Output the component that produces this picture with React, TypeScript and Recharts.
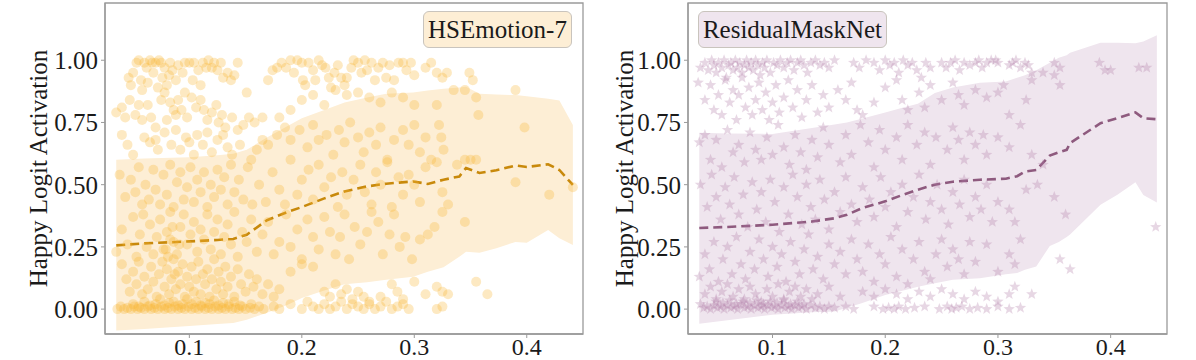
import React from "react";
import {
  ComposedChart,
  Area,
  Line,
  Scatter,
  XAxis,
  YAxis,
  ReferenceArea,
} from "recharts";

// ---- band + running mean ----
const hseBandX = [0.035, 0.06, 0.1, 0.125, 0.139, 0.151, 0.169, 0.187, 0.2, 0.22, 0.238, 0.258, 0.275, 0.299, 0.312, 0.326, 0.34, 0.346, 0.358, 0.373, 0.39, 0.4, 0.419, 0.429, 0.441];
const hseMean = [0.256, 0.264, 0.272, 0.278, 0.282, 0.299, 0.357, 0.39, 0.41, 0.445, 0.473, 0.493, 0.504, 0.513, 0.503, 0.52, 0.533, 0.567, 0.547, 0.558, 0.577, 0.571, 0.582, 0.559, 0.499];
const hseLow = [-0.086, -0.08, -0.068, -0.06, -0.056, -0.043, -0.015, 0.017, 0.045, 0.075, 0.1, 0.108, 0.118, 0.13, 0.15, 0.168, 0.21, 0.23, 0.226, 0.245, 0.27, 0.267, 0.318, 0.285, 0.258];
const hseHigh = [0.6, 0.605, 0.61, 0.618, 0.624, 0.64, 0.69, 0.735, 0.767, 0.8, 0.83, 0.85, 0.865, 0.87, 0.878, 0.885, 0.89, 0.893, 0.865, 0.862, 0.86, 0.855, 0.845, 0.838, 0.74];

const rmnBandX = [0.035, 0.06, 0.1, 0.135, 0.155, 0.166, 0.179, 0.2, 0.216, 0.229, 0.244, 0.26, 0.284, 0.307, 0.317, 0.324, 0.334, 0.346, 0.354, 0.361, 0.364, 0.391, 0.406, 0.422, 0.429, 0.441];
const rmnMean = [0.326, 0.33, 0.339, 0.352, 0.365, 0.379, 0.405, 0.433, 0.46, 0.48, 0.5, 0.512, 0.52, 0.524, 0.534, 0.553, 0.559, 0.617, 0.63, 0.64, 0.667, 0.747, 0.767, 0.79, 0.767, 0.763];
const rmnLow = [-0.059, -0.045, -0.023, -0.013, -0.01, 0.005, 0.024, 0.057, 0.075, 0.09, 0.104, 0.118, 0.124, 0.14, 0.145, 0.158, 0.171, 0.254, 0.27, 0.29, 0.3, 0.419, 0.46, 0.51, 0.459, 0.428];
const rmnHigh = [0.709, 0.706, 0.704, 0.728, 0.742, 0.75, 0.765, 0.79, 0.81, 0.825, 0.868, 0.89, 0.91, 0.915, 0.93, 0.94, 0.96, 0.99, 1.01, 1.02, 1.03, 1.07, 1.07, 1.068, 1.075, 1.1];

// ---- HSEmotion-7 scatter ----
const hseTop = [
  [0.046, 0.93], [0.048, 0.9], [0.05, 0.95], [0.053, 0.99], [0.055, 1.0], [0.057, 0.92], [0.058, 0.88], [0.06, 0.99], [0.062, 0.97], [0.063, 0.91],
  [0.065, 1.0], [0.067, 0.99], [0.068, 0.95], [0.07, 0.99], [0.072, 0.89], [0.073, 1.0], [0.075, 0.99], [0.076, 0.93], [0.078, 0.97], [0.08, 0.9],
  [0.082, 0.94], [0.083, 0.99], [0.085, 0.96], [0.088, 0.92], [0.09, 0.98], [0.094, 0.95], [0.096, 0.99], [0.1, 0.99], [0.103, 0.92], [0.104, 0.99],
  [0.108, 0.96], [0.11, 0.9], [0.112, 0.99], [0.115, 0.97], [0.117, 1.0], [0.12, 0.97], [0.122, 0.99], [0.125, 0.96], [0.128, 0.99], [0.13, 0.93],
  [0.134, 0.95], [0.137, 0.92], [0.14, 0.94], [0.143, 0.99], [0.151, 0.87],
  [0.17, 0.92], [0.174, 0.96], [0.178, 0.97], [0.182, 0.99], [0.186, 0.97], [0.19, 1.0], [0.193, 0.95], [0.196, 1.0], [0.2, 0.99], [0.201, 0.92],
  [0.203, 0.9], [0.206, 0.99], [0.21, 0.96], [0.212, 0.92], [0.215, 1.0], [0.218, 0.98], [0.221, 0.97], [0.224, 0.93], [0.226, 0.89], [0.229, 0.95],
  [0.232, 0.98], [0.235, 0.93], [0.238, 0.9], [0.24, 0.93], [0.244, 0.97], [0.246, 1.0], [0.25, 0.99], [0.253, 0.95], [0.256, 1.0], [0.258, 0.96],
  [0.262, 0.99], [0.265, 0.92], [0.268, 0.97], [0.272, 0.99], [0.275, 0.93], [0.278, 0.98], [0.282, 0.92], [0.286, 0.99], [0.29, 0.99], [0.293, 0.96],
  [0.297, 0.99], [0.3, 0.94], [0.31, 0.97], [0.315, 0.99], [0.32, 0.95], [0.325, 0.93], [0.329, 0.95], [0.349, 0.95], [0.352, 0.92],
];
const hseUpper = [
  [0.035, 0.79], [0.04, 0.81], [0.043, 0.77], [0.047, 0.84], [0.052, 0.78], [0.055, 0.82], [0.058, 0.76], [0.063, 0.82], [0.066, 0.77], [0.07, 0.73],
  [0.075, 0.84], [0.078, 0.87], [0.08, 0.76], [0.083, 0.83], [0.086, 0.8], [0.088, 0.78], [0.09, 0.84], [0.093, 0.8], [0.096, 0.87], [0.098, 0.77],
  [0.102, 0.85], [0.106, 0.81], [0.11, 0.84], [0.113, 0.8], [0.116, 0.76], [0.12, 0.79], [0.124, 0.82], [0.126, 0.75], [0.129, 0.78], [0.132, 0.73],
  [0.138, 0.77], [0.143, 0.72], [0.148, 0.74], [0.153, 0.77], [0.158, 0.75], [0.165, 0.77], [0.18, 0.77], [0.19, 0.8], [0.2, 0.84], [0.21, 0.86],
  [0.22, 0.82], [0.23, 0.88], [0.24, 0.86], [0.25, 0.87], [0.26, 0.85], [0.27, 0.83], [0.28, 0.87], [0.29, 0.85], [0.3, 0.82], [0.32, 0.82],
  [0.335, 0.88], [0.345, 0.88], [0.355, 0.85], [0.39, 0.88],
  [0.04, 0.7], [0.045, 0.66], [0.05, 0.62], [0.06, 0.69], [0.065, 0.67], [0.07, 0.68], [0.072, 0.64], [0.078, 0.71], [0.084, 0.66], [0.088, 0.72],
  [0.092, 0.64], [0.097, 0.69], [0.1, 0.67], [0.104, 0.62], [0.107, 0.7], [0.112, 0.66], [0.116, 0.71], [0.12, 0.63], [0.125, 0.68], [0.13, 0.7],
  [0.134, 0.65], [0.138, 0.62], [0.145, 0.66], [0.155, 0.6], [0.16, 0.64], [0.165, 0.68], [0.17, 0.66], [0.178, 0.7], [0.185, 0.73], [0.19, 0.68],
  [0.198, 0.72], [0.205, 0.65], [0.21, 0.74], [0.215, 0.68], [0.222, 0.7], [0.228, 0.62], [0.233, 0.72], [0.238, 0.67], [0.243, 0.75], [0.25, 0.69],
  [0.255, 0.63], [0.26, 0.71], [0.266, 0.66], [0.27, 0.73], [0.276, 0.6], [0.282, 0.68], [0.29, 0.72], [0.295, 0.66], [0.3, 0.74], [0.305, 0.63],
  [0.31, 0.69], [0.322, 0.74], [0.324, 0.69], [0.326, 0.64], [0.345, 0.6], [0.355, 0.6], [0.357, 0.78], [0.398, 0.73],
];
const hseMid = [
  [0.038, 0.54], [0.043, 0.45], [0.048, 0.52], [0.052, 0.47], [0.055, 0.57], [0.058, 0.42], [0.061, 0.5], [0.064, 0.44], [0.068, 0.56], [0.07, 0.48],
  [0.074, 0.42], [0.077, 0.54], [0.08, 0.46], [0.083, 0.58], [0.086, 0.41], [0.089, 0.51], [0.092, 0.55], [0.095, 0.44], [0.098, 0.49], [0.101, 0.57],
  [0.104, 0.43], [0.107, 0.52], [0.11, 0.47], [0.113, 0.55], [0.116, 0.41], [0.119, 0.5], [0.122, 0.45], [0.125, 0.56], [0.128, 0.48], [0.131, 0.53],
  [0.134, 0.42], [0.137, 0.58], [0.14, 0.47], [0.144, 0.52], [0.148, 0.44], [0.152, 0.57], [0.156, 0.42], [0.162, 0.5], [0.168, 0.43], [0.174, 0.55],
  [0.18, 0.48], [0.185, 0.42], [0.19, 0.6], [0.196, 0.46], [0.2, 0.52], [0.206, 0.56], [0.21, 0.44], [0.215, 0.58], [0.22, 0.49], [0.226, 0.53],
  [0.232, 0.41], [0.236, 0.55], [0.24, 0.46], [0.246, 0.52], [0.252, 0.58], [0.256, 0.47], [0.262, 0.42], [0.266, 0.55], [0.27, 0.5], [0.276, 0.59],
  [0.28, 0.41], [0.286, 0.53], [0.29, 0.46], [0.295, 0.54], [0.3, 0.5], [0.305, 0.43], [0.31, 0.57], [0.315, 0.6], [0.32, 0.59], [0.325, 0.47],
  [0.33, 0.42], [0.338, 0.58], [0.35, 0.6], [0.39, 0.51], [0.42, 0.46], [0.441, 0.49],
  [0.035, 0.23], [0.04, 0.32], [0.045, 0.26], [0.05, 0.37], [0.053, 0.21], [0.056, 0.3], [0.059, 0.38], [0.062, 0.25], [0.065, 0.34], [0.068, 0.22],
  [0.071, 0.29], [0.074, 0.36], [0.077, 0.24], [0.08, 0.31], [0.083, 0.39], [0.086, 0.27], [0.089, 0.22], [0.092, 0.33], [0.095, 0.38], [0.098, 0.26],
  [0.101, 0.3], [0.104, 0.35], [0.107, 0.23], [0.11, 0.32], [0.113, 0.28], [0.116, 0.38], [0.119, 0.24], [0.122, 0.31], [0.125, 0.36], [0.128, 0.22],
  [0.131, 0.29], [0.134, 0.34], [0.137, 0.26], [0.14, 0.39], [0.143, 0.21], [0.147, 0.31], [0.151, 0.27], [0.155, 0.36], [0.16, 0.23], [0.165, 0.3],
  [0.17, 0.35], [0.175, 0.22], [0.18, 0.27], [0.186, 0.38], [0.19, 0.25], [0.196, 0.32], [0.2, 0.2], [0.205, 0.36], [0.21, 0.29], [0.215, 0.24],
  [0.22, 0.37], [0.225, 0.31], [0.23, 0.22], [0.234, 0.29], [0.238, 0.38], [0.242, 0.2], [0.247, 0.33], [0.252, 0.26], [0.258, 0.31], [0.262, 0.39],
  [0.268, 0.35], [0.272, 0.22], [0.278, 0.3], [0.282, 0.38], [0.287, 0.25], [0.292, 0.29], [0.298, 0.2], [0.305, 0.28], [0.312, 0.3], [0.318, 0.33],
  [0.325, 0.39], [0.345, 0.35],
];
const hseLowPts = [
  [0.04, 0.18], [0.044, 0.12], [0.047, 0.07], [0.05, 0.15], [0.053, 0.1], [0.055, 0.19], [0.058, 0.06], [0.06, 0.13], [0.063, 0.08], [0.066, 0.17],
  [0.068, 0.11], [0.071, 0.05], [0.073, 0.14], [0.076, 0.19], [0.078, 0.09], [0.08, 0.16], [0.082, 0.06], [0.084, 0.12], [0.086, 0.2], [0.088, 0.08],
  [0.09, 0.15], [0.092, 0.1], [0.094, 0.18], [0.096, 0.05], [0.098, 0.13], [0.1, 0.09], [0.102, 0.17], [0.104, 0.07], [0.106, 0.12], [0.108, 0.19],
  [0.11, 0.06], [0.112, 0.14], [0.114, 0.1], [0.116, 0.16], [0.118, 0.05], [0.12, 0.12], [0.122, 0.2], [0.124, 0.08], [0.126, 0.15], [0.128, 0.11],
  [0.13, 0.06], [0.132, 0.17], [0.134, 0.09], [0.137, 0.13], [0.14, 0.05], [0.143, 0.16], [0.146, 0.1], [0.15, 0.07], [0.153, 0.14], [0.157, 0.09],
  [0.16, 0.12], [0.165, 0.06], [0.17, 0.1], [0.175, 0.05], [0.18, 0.08], [0.19, 0.15], [0.2, 0.18], [0.21, 0.17], [0.22, 0.07], [0.225, 0.05],
  [0.23, 0.1], [0.235, 0.06], [0.24, 0.08], [0.245, 0.04], [0.25, 0.07], [0.255, 0.05], [0.26, 0.03], [0.27, 0.05], [0.28, 0.1], [0.285, 0.07],
  [0.29, 0.04], [0.3, 0.11], [0.31, 0.06], [0.32, 0.09], [0.325, 0.07], [0.33, 0.06], [0.355, 0.11], [0.365, 0.06],
  [0.079, 0.24], [0.081, 0.21], [0.083, 0.28], [0.085, 0.33], [0.087, 0.14], [0.091, 0.26],
];
const hseZero = [
  [0.036, 0], [0.039, 0.01], [0.042, 0], [0.045, 0.005], [0.048, 0], [0.051, 0.01], [0.054, 0], [0.057, 0.005], [0.06, 0], [0.063, 0.01],
  [0.066, 0], [0.069, 0.005], [0.072, 0], [0.075, 0.01], [0.078, 0], [0.081, 0.005], [0.084, 0], [0.087, 0.01], [0.09, 0], [0.093, 0.005],
  [0.096, 0], [0.099, 0.01], [0.102, 0], [0.105, 0.005], [0.108, 0], [0.111, 0.01], [0.114, 0], [0.117, 0.005], [0.12, 0], [0.123, 0.01],
  [0.126, 0], [0.129, 0.005], [0.132, 0], [0.135, 0.01], [0.138, 0], [0.141, 0.005], [0.144, 0], [0.147, 0.01], [0.15, 0], [0.154, 0.005],
  [0.158, 0], [0.162, 0.01], [0.166, 0],
  [0.05, 0.02], [0.055, 0.01], [0.06, 0.03], [0.065, 0.015], [0.07, 0.02], [0.074, 0.04], [0.078, 0.015], [0.082, 0.025], [0.086, 0.03], [0.09, 0.015],
  [0.094, 0.02], [0.098, 0.04], [0.102, 0.02], [0.106, 0.03], [0.11, 0.015], [0.114, 0.025], [0.118, 0.02], [0.122, 0.035], [0.126, 0.015], [0.13, 0.025],
  [0.135, 0.02], [0.14, 0.03], [0.145, 0.015], [0.155, 0.02],
  [0.175, 0.01], [0.18, 0], [0.19, 0.02], [0.2, 0], [0.205, 0.03], [0.21, 0.01], [0.215, 0], [0.22, 0.02], [0.225, 0], [0.23, 0.01],
  [0.235, 0.03], [0.24, 0], [0.245, 0.02], [0.25, 0.01], [0.255, 0], [0.26, 0.02], [0.265, 0], [0.27, 0.01], [0.275, 0.03], [0.28, 0],
  [0.285, 0.01], [0.29, 0.02], [0.295, 0], [0.32, 0], [0.325, 0.01],
];

// ---- ResidualMaskNet scatter ----
const rmnTop = [
  [0.036, 0.97], [0.04, 0.99], [0.043, 0.96], [0.046, 1.0], [0.048, 0.98], [0.05, 0.95], [0.052, 0.99], [0.055, 0.97], [0.057, 1.0], [0.059, 0.93],
  [0.061, 0.98], [0.063, 0.99], [0.065, 0.96], [0.067, 1.0], [0.069, 0.97], [0.071, 0.99], [0.073, 0.95], [0.075, 0.98], [0.077, 1.0], [0.079, 0.97],
  [0.081, 0.99], [0.083, 0.96], [0.085, 1.0], [0.087, 0.98], [0.089, 0.94], [0.091, 0.99], [0.093, 0.97], [0.095, 1.0], [0.098, 0.95], [0.101, 0.99],
  [0.104, 0.98], [0.107, 1.0], [0.11, 0.97], [0.113, 0.99], [0.116, 1.0], [0.119, 0.96], [0.122, 0.99], [0.125, 1.0], [0.128, 0.98], [0.131, 0.95],
  [0.134, 0.99], [0.138, 1.0], [0.142, 0.98], [0.146, 0.99], [0.15, 0.97], [0.155, 1.0],
  [0.172, 0.99], [0.177, 0.97], [0.183, 1.0], [0.19, 0.99], [0.195, 0.96], [0.2, 1.0], [0.204, 0.98], [0.208, 0.99], [0.212, 0.95], [0.216, 1.0],
  [0.22, 0.98], [0.224, 0.99], [0.228, 0.96], [0.232, 0.93], [0.236, 0.99], [0.24, 0.97], [0.25, 0.99], [0.254, 0.97], [0.258, 0.99], [0.262, 1.0],
  [0.266, 0.96], [0.27, 0.99], [0.275, 0.98], [0.28, 0.99], [0.283, 1.0], [0.286, 0.97], [0.29, 0.99], [0.294, 1.0], [0.298, 1.0], [0.3, 0.99],
  [0.31, 0.98], [0.313, 0.99], [0.316, 1.0], [0.32, 0.97], [0.324, 0.99], [0.327, 0.98], [0.33, 0.95], [0.35, 0.99], [0.355, 0.97], [0.39, 0.99],
  [0.395, 0.96], [0.4, 0.96], [0.425, 0.97], [0.432, 0.97],
];
const rmnUpper = [
  [0.034, 0.91], [0.04, 0.84], [0.045, 0.9], [0.048, 0.8], [0.052, 0.86], [0.055, 0.78], [0.058, 0.92], [0.062, 0.83], [0.065, 0.88], [0.068, 0.76],
  [0.07, 0.86], [0.073, 0.93], [0.076, 0.81], [0.079, 0.89], [0.082, 0.78], [0.085, 0.84], [0.088, 0.91], [0.091, 0.8], [0.094, 0.87], [0.097, 0.76],
  [0.1, 0.83], [0.103, 0.9], [0.106, 0.79], [0.11, 0.85], [0.114, 0.92], [0.118, 0.81], [0.122, 0.88], [0.126, 0.77], [0.13, 0.84], [0.135, 0.9],
  [0.14, 0.79], [0.145, 0.86], [0.15, 0.81], [0.158, 0.88], [0.165, 0.84], [0.17, 0.91], [0.175, 0.8], [0.18, 0.78], [0.19, 0.83], [0.2, 0.89],
  [0.21, 0.92], [0.215, 0.84], [0.22, 0.8], [0.23, 0.87], [0.235, 0.81], [0.24, 0.9], [0.25, 0.84], [0.26, 0.91], [0.265, 0.86], [0.27, 0.82],
  [0.28, 0.88], [0.29, 0.85], [0.3, 0.87], [0.305, 0.9], [0.31, 0.78], [0.325, 0.84], [0.33, 0.92], [0.35, 0.94], [0.355, 0.9], [0.34, 0.95],
  [0.035, 0.67], [0.04, 0.7], [0.045, 0.6], [0.05, 0.68], [0.055, 0.57], [0.06, 0.72], [0.065, 0.63], [0.07, 0.66], [0.075, 0.59], [0.08, 0.71],
  [0.085, 0.64], [0.09, 0.6], [0.095, 0.69], [0.1, 0.62], [0.105, 0.74], [0.11, 0.65], [0.115, 0.58], [0.12, 0.7], [0.125, 0.63], [0.13, 0.56],
  [0.135, 0.68], [0.14, 0.61], [0.145, 0.73], [0.15, 0.66], [0.16, 0.59], [0.165, 0.7], [0.17, 0.62], [0.178, 0.74], [0.185, 0.67], [0.19, 0.57],
  [0.195, 0.72], [0.2, 0.64], [0.21, 0.69], [0.215, 0.6], [0.22, 0.74], [0.228, 0.66], [0.235, 0.71], [0.24, 0.58], [0.245, 0.69], [0.255, 0.64],
  [0.26, 0.73], [0.265, 0.68], [0.27, 0.6], [0.275, 0.71], [0.28, 0.66], [0.287, 0.7], [0.29, 0.62], [0.3, 0.69], [0.31, 0.65], [0.32, 0.74],
  [0.33, 0.62], [0.34, 0.58],
];
const rmnMid = [
  [0.036, 0.5], [0.042, 0.41], [0.046, 0.54], [0.05, 0.45], [0.054, 0.36], [0.058, 0.49], [0.062, 0.42], [0.066, 0.53], [0.07, 0.38], [0.074, 0.46],
  [0.078, 0.33], [0.082, 0.51], [0.086, 0.4], [0.09, 0.47], [0.094, 0.35], [0.098, 0.52], [0.102, 0.43], [0.106, 0.31], [0.11, 0.49], [0.114, 0.38],
  [0.118, 0.54], [0.122, 0.45], [0.126, 0.34], [0.13, 0.5], [0.134, 0.41], [0.138, 0.36], [0.142, 0.52], [0.146, 0.44], [0.15, 0.32], [0.155, 0.47],
  [0.16, 0.39], [0.165, 0.53], [0.17, 0.42], [0.175, 0.35], [0.18, 0.49], [0.186, 0.44], [0.19, 0.37], [0.196, 0.53], [0.2, 0.41], [0.205, 0.47],
  [0.21, 0.33], [0.215, 0.5], [0.22, 0.39], [0.225, 0.45], [0.23, 0.54], [0.236, 0.36], [0.24, 0.43], [0.246, 0.5], [0.25, 0.4], [0.256, 0.34],
  [0.26, 0.47], [0.266, 0.42], [0.27, 0.52], [0.275, 0.37], [0.28, 0.45], [0.285, 0.4], [0.29, 0.5], [0.295, 0.35], [0.3, 0.43], [0.31, 0.4],
  [0.315, 0.35], [0.325, 0.48], [0.335, 0.5], [0.35, 0.45], [0.36, 0.38], [0.44, 0.33],
  [0.035, 0.13], [0.04, 0.22], [0.044, 0.16], [0.048, 0.27], [0.052, 0.11], [0.056, 0.2], [0.06, 0.25], [0.064, 0.14], [0.068, 0.29], [0.072, 0.18],
  [0.076, 0.12], [0.08, 0.23], [0.084, 0.16], [0.088, 0.28], [0.092, 0.2], [0.096, 0.13], [0.1, 0.25], [0.104, 0.17], [0.108, 0.22], [0.112, 0.11],
  [0.116, 0.27], [0.12, 0.19], [0.124, 0.14], [0.128, 0.24], [0.132, 0.3], [0.136, 0.16], [0.14, 0.21], [0.145, 0.12], [0.15, 0.26], [0.155, 0.18],
  [0.16, 0.23], [0.165, 0.14], [0.17, 0.28], [0.175, 0.2], [0.18, 0.15], [0.185, 0.26], [0.19, 0.11], [0.195, 0.22], [0.2, 0.18], [0.205, 0.29],
  [0.21, 0.13], [0.215, 0.24], [0.22, 0.1], [0.225, 0.2], [0.23, 0.27], [0.235, 0.15], [0.24, 0.12], [0.245, 0.22], [0.25, 0.28], [0.255, 0.17],
  [0.26, 0.24], [0.265, 0.2], [0.27, 0.14], [0.275, 0.27], [0.28, 0.19], [0.29, 0.26], [0.3, 0.15], [0.31, 0.22], [0.315, 0.18], [0.32, 0.28],
  [0.355, 0.2], [0.364, 0.16],
];
const rmnLowPts = [
  [0.04, 0.06], [0.045, 0.09], [0.05, 0.04], [0.055, 0.07], [0.06, 0.1], [0.065, 0.05], [0.07, 0.08], [0.075, 0.04], [0.08, 0.09], [0.085, 0.06],
  [0.09, 0.03], [0.095, 0.08], [0.1, 0.05], [0.105, 0.1], [0.11, 0.04], [0.115, 0.07], [0.12, 0.09], [0.125, 0.05], [0.13, 0.08], [0.135, 0.04],
  [0.14, 0.06], [0.15, 0.09], [0.16, 0.05], [0.18, 0.07], [0.19, 0.05], [0.2, 0.08], [0.21, 0.06], [0.22, 0.04], [0.23, 0.07], [0.24, 0.05],
  [0.25, 0.08], [0.26, 0.06], [0.27, 0.04], [0.28, 0.07], [0.29, 0.05], [0.3, 0.03], [0.31, 0.06], [0.315, 0.09], [0.33, 0.06],
];
const rmnZero = [
  [0.036, 0.02], [0.039, 0.005], [0.042, 0.01], [0.045, 0], [0.048, 0.015], [0.051, 0.005], [0.054, 0.01], [0.057, 0], [0.06, 0.015], [0.063, 0.005],
  [0.066, 0.01], [0.069, 0], [0.072, 0.02], [0.075, 0.005], [0.078, 0.01], [0.081, 0], [0.084, 0.015], [0.087, 0.005], [0.09, 0.01], [0.093, 0],
  [0.096, 0.015], [0.099, 0.005], [0.102, 0.01], [0.105, 0], [0.108, 0.015], [0.111, 0.005], [0.114, 0.01], [0.117, 0], [0.12, 0.015], [0.123, 0.005],
  [0.126, 0.01], [0.13, 0], [0.134, 0.015], [0.138, 0.005], [0.142, 0.01], [0.146, 0], [0.15, 0.01], [0.155, 0.005],
  [0.05, 0.03], [0.056, 0.025], [0.062, 0.035], [0.068, 0.02], [0.074, 0.03], [0.08, 0.025], [0.086, 0.035], [0.092, 0.02], [0.098, 0.03], [0.104, 0.025],
  [0.11, 0.035], [0.116, 0.02], [0.122, 0.03], [0.128, 0.02],
  [0.165, 0.01], [0.172, 0], [0.19, 0.01], [0.198, 0], [0.203, 0.005], [0.208, 0], [0.212, 0.01], [0.218, 0], [0.226, 0.005], [0.235, 0.01],
  [0.248, 0], [0.255, 0.01], [0.259, 0], [0.263, 0.005], [0.268, 0.01], [0.275, 0], [0.282, 0.005], [0.29, 0], [0.3, 0.01], [0.31, 0], [0.32, 0.005],
];

const xTicks = [0.1, 0.2, 0.3, 0.4];
const yTicks = [0, 0.25, 0.5, 0.75, 1.0];

const FONT = '"Liberation Serif", "Times New Roman", serif';
const AXIS = "#9a9a9a";

const toPoints = (...groups: number[][][]) =>
  groups.flat().map(([x, y]) => ({ x, y }));

const toBand = (xs: number[], mean: number[], lo: number[], hi: number[]) =>
  xs.map((x, i) => ({ x, mean: mean[i], range: [lo[i], hi[i]] }));

const hsePoints = toPoints(hseTop, hseUpper, hseMid, hseLowPts, hseZero);
const rmnPoints = toPoints(rmnTop, rmnUpper, rmnMid, rmnLowPts, rmnZero);
const hseBand = toBand(hseBandX, hseMean, hseLow, hseHigh);
const rmnBand = toBand(rmnBandX, rmnMean, rmnLow, rmnHigh);

function starPath(cx: number, cy: number, R: number, r: number) {
  let d = "";
  for (let i = 0; i < 10; i++) {
    const a = -Math.PI / 2 + (i * Math.PI) / 5;
    const rad = i % 2 === 0 ? R : r;
    d += (i ? "L" : "M") + (cx + rad * Math.cos(a)).toFixed(2) + "," + (cy + rad * Math.sin(a)).toFixed(2);
  }
  return d + "Z";
}

const circleShape = (color: string) => (p: any) =>
  <circle cx={p.cx} cy={p.cy} r={5} fill={color} fillOpacity={0.3} stroke="none" />;
const starShape = (color: string) => (p: any) =>
  <path d={starPath(p.cx, p.cy, 6, 2.5)} fill={color} fillOpacity={0.3} stroke="none" />;

type PanelProps = {
  band: any[];
  points: any[];
  bandColor: string;
  lineColor: string;
  shape: (p: any) => React.ReactElement;
  yAxisWidth: number;
  rightMargin: number;
  labelX: number;
};

function Panel({ band, points, bandColor, lineColor, shape, yAxisWidth, rightMargin, labelX }: PanelProps) {
  const renderYLabel = () => (
    <text
      x={labelX}
      y={168.5}
      transform={`rotate(-90 ${labelX} ${168.5})`}
      textAnchor="middle"
      fontFamily={FONT}
      fontSize={25}
      fill="#1a1a1a"
    >
      Happy Logit Activation
    </text>
  );
  return (
    <ComposedChart
      width={598}
      height={360}
      data={band}
      margin={{ top: 3, right: rightMargin, bottom: 0, left: 0 }}
    >
      <XAxis
        dataKey="x"
        type="number"
        domain={[0.025, 0.45]}
        allowDataOverflow
        ticks={xTicks}
        interval={0}
        tickFormatter={(v: number) => v.toFixed(1)}
        height={26}
        tickSize={4}
        tickMargin={0}
        axisLine={{ stroke: AXIS, strokeWidth: 1.3 }}
        tickLine={{ stroke: AXIS }}
        tick={{ fill: "#1a1a1a", fontSize: 24, fontFamily: FONT }}
      />
      <YAxis
        dataKey="y"
        type="number"
        domain={[-0.1, 1.23]}
        allowDataOverflow
        ticks={yTicks}
        interval={0}
        tickFormatter={(v: number) => v.toFixed(2)}
        width={yAxisWidth}
        tickSize={4}
        tickMargin={3}
        axisLine={{ stroke: AXIS, strokeWidth: 1.3 }}
        tickLine={{ stroke: AXIS }}
        tick={{ fill: "#1a1a1a", fontSize: 25, fontFamily: FONT }}
        label={renderYLabel}
      />
      <Area
        dataKey="range"
        type="linear"
        stroke="none"
        fill={bandColor}
        fillOpacity={1}
        isAnimationActive={false}
      />
      <Scatter data={points} shape={shape} isAnimationActive={false} />
      <Line
        dataKey="mean"
        type="linear"
        stroke={lineColor}
        strokeWidth={2.6}
        strokeDasharray="9 5"
        dot={false}
        isAnimationActive={false}
      />
      <ReferenceArea
        x1={0.025}
        x2={0.45}
        y1={-0.1}
        y2={1.23}
        fill="none"
        stroke={AXIS}
        strokeWidth={1.3}
        fillOpacity={0}
        strokeOpacity={1}
      />
    </ComposedChart>
  );
}

const boxStyle: React.CSSProperties = {
  position: "absolute",
  top: 11,
  height: 37,
  boxSizing: "border-box",
  border: "1px solid #c9c4bd",
  borderRadius: 6,
  fontFamily: FONT,
  fontSize: 25,
  color: "#1a1a1a",
  display: "flex",
  alignItems: "center",
  justifyContent: "center",
  whiteSpace: "nowrap",
};

export default function App() {
  return (
    <div style={{ position: "absolute", left: 0, top: 0, width: 1196, height: 360, background: "#fff" }}>
      <div style={{ position: "absolute", left: 0, top: 0 }}>
        <Panel
          band={hseBand}
          points={hsePoints}
          bandColor="#FDEED5"
          lineColor="#C8890B"
          shape={circleShape("#F7B535")}
          yAxisWidth={105}
          rightMargin={15}
          labelX={46.5}
        />
        <div style={{ ...boxStyle, left: 423, width: 149, background: "#FDEED5" }}>HSEmotion-7</div>
      </div>
      <div style={{ position: "absolute", left: 598, top: 0 }}>
        <Panel
          band={rmnBand}
          points={rmnPoints}
          bandColor="#EFE5EE"
          lineColor="#8E5A7E"
          shape={starShape("#B07AA6")}
          yAxisWidth={90}
          rightMargin={29}
          labelX={35}
        />
        <div style={{ ...boxStyle, left: 100, width: 189, background: "#EFE5EE" }}>ResidualMaskNet</div>
      </div>
    </div>
  );
}
